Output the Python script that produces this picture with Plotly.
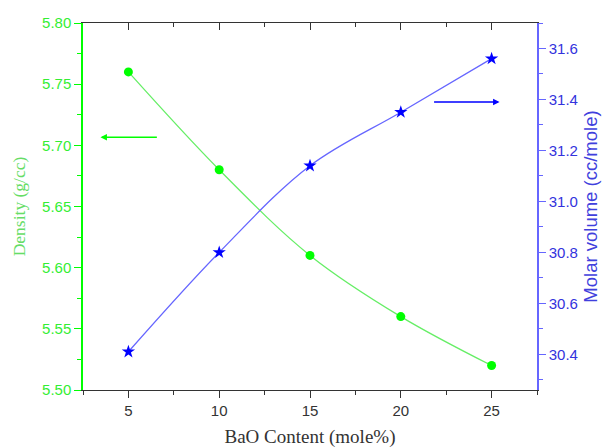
import plotly.graph_objects as go

bao = [5, 10, 15, 20, 25]
density = [5.76, 5.68, 5.61, 5.56, 5.52]
molar_volume = [30.41, 30.80, 31.14, 31.35, 31.56]

x_ticks = [5, 10, 15, 20, 25]
density_ticks = [5.50, 5.55, 5.60, 5.65, 5.70, 5.75, 5.80]
molar_ticks = [30.4, 30.6, 30.8, 31.0, 31.2, 31.4, 31.6]

GREEN = "#00ff00"
GREEN_LINE = "#66ee66"
GREEN_TXT = "#33ee33"
BLUE = "#0000ff"
BLUE_LINE = "#6666ff"
BLUE_TXT = "#3333dd"
FRAME = "#333333"

fig = go.Figure()
fig.add_trace(go.Scatter(
    x=bao, y=density, mode="lines+markers", yaxis="y", xaxis="x",
    line=dict(color=GREEN_LINE, width=1.3, shape="spline"),
    marker=dict(symbol="circle", size=9, color=GREEN),
    showlegend=False))
fig.add_trace(go.Scatter(
    x=bao, y=molar_volume, mode="lines+markers", yaxis="y2", xaxis="x",
    line=dict(color=BLUE_LINE, width=1.3, shape="spline"),
    marker=dict(symbol="star", size=10, color=BLUE),
    showlegend=False))
# invisible trace to activate top mirrored axis
fig.add_trace(go.Scatter(x=[None], y=[None], xaxis="x2", yaxis="y", showlegend=False))

xr = [2.5, 27.5]
fig.update_layout(
    width=605, height=448,
    margin=dict(l=83, r=68, t=23, b=58, autoexpand=False),
    paper_bgcolor="white", plot_bgcolor="white",
    xaxis=dict(
        range=xr, tickvals=x_ticks, ticks="outside", ticklen=7, tickwidth=1,
        tickcolor=FRAME, showline=True, linecolor=FRAME, linewidth=1,
        showgrid=False, zeroline=False, automargin=False,
        minor=dict(dtick=2.5, tick0=2.5, ticks="outside", ticklen=4, tickcolor=FRAME),
        tickfont=dict(family="Liberation Sans, Arial", size=15, color=FRAME),
        title=dict(text="BaO Content (mole%)", standoff=12,
                   font=dict(family="Liberation Serif, Times New Roman", size=19, color=FRAME)),
    ),
    xaxis2=dict(
        range=xr, overlaying="x", side="top", tickvals=x_ticks, ticks="inside",
        ticklen=7, tickcolor=FRAME, showline=True, linecolor=FRAME, linewidth=1,
        showticklabels=False, showgrid=False, zeroline=False, automargin=False,
        minor=dict(dtick=2.5, tick0=2.5, ticks="inside", ticklen=4, tickcolor=FRAME),
    ),
    yaxis=dict(
        range=[5.5, 5.8], tickvals=density_ticks, tickformat=".2f",
        ticks="outside", ticklen=7, tickcolor=GREEN, showline=True,
        linecolor=GREEN, linewidth=1.5, showgrid=False, zeroline=False, automargin=False,
        minor=dict(dtick=0.025, tick0=5.5, ticks="outside", ticklen=4, tickcolor=GREEN),
        tickfont=dict(family="Liberation Sans, Arial", size=15, color=GREEN_TXT),
        title=dict(text="Density (g/cc)", standoff=12,
                   font=dict(family="Liberation Serif, Times New Roman", size=17.5, color="#66dd66")),
    ),
    yaxis2=dict(
        range=[30.26, 31.70], overlaying="y", side="right", anchor="x",
        tickvals=molar_ticks, tickformat=".1f",
        ticks="outside", ticklen=7, tickcolor=BLUE_LINE, showline=True,
        linecolor=BLUE_LINE, linewidth=1.5, showgrid=False, zeroline=False, automargin=False,
        minor=dict(dtick=0.1, tick0=30.4, ticks="outside", ticklen=4, tickcolor=BLUE_LINE),
        tickfont=dict(family="Liberation Sans, Arial", size=15, color=BLUE_TXT),
        title=dict(text="Molar volume (cc/mole)", standoff=7,
                   font=dict(family="Liberation Sans, Arial", size=18.5, color="#4040dd")),
    ),
)

fig.add_annotation(x=3.46, y=5.7066, xref="x", yref="y",
                   ax=6.65, ay=5.7066, axref="x", ayref="y",
                   showarrow=True, arrowhead=2, arrowsize=1, arrowwidth=1.3,
                   arrowcolor=GREEN, text="")
fig.add_annotation(x=25.44, y=31.39, xref="x", yref="y2",
                   ax=21.75, ay=31.39, axref="x", ayref="y2",
                   showarrow=True, arrowhead=2, arrowsize=1, arrowwidth=1.3,
                   arrowcolor=BLUE, text="")

fig.write_html("out.html")
